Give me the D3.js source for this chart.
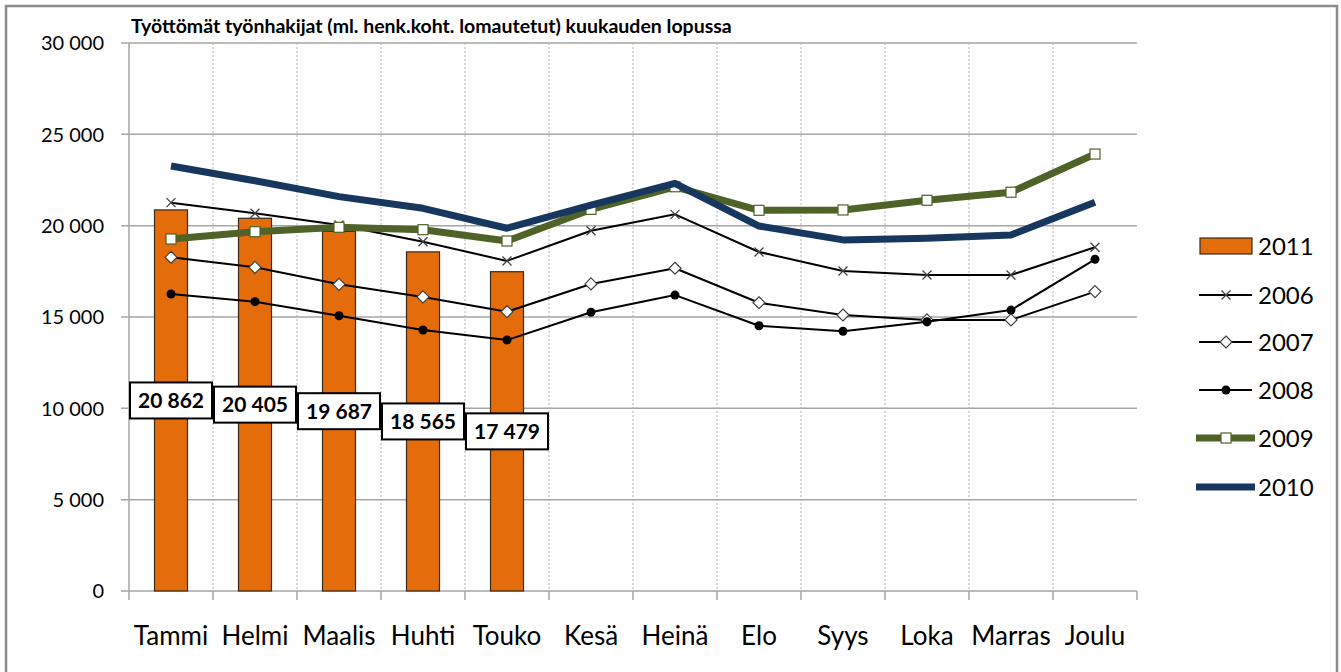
<!DOCTYPE html>
<html>
<head>
<meta charset="utf-8">
<script src="https://cdn.jsdelivr.net/npm/d3@7"></script>
<style>
  html, body { margin: 0; padding: 0; background: #fff; }
  svg { display: block; font-family: Lato, "Open Sans", sans-serif; }
</style>
</head>
<body>
<svg id="chart" width="1341" height="672"></svg>
<script>
/** categories */
const months = ["Tammi", "Helmi", "Maalis", "Huhti", "Touko", "Kesä", "Heinä", "Elo", "Syys", "Loka", "Marras", "Joulu"];

/** bars, 2011 */
const y2011 = [20862, 20405, 19687, 18565, 17479];

/** lines */
const y2006 = [21260, 20680, 20040, 19120, 18070, 19720, 20620, 18560, 17520, 17300, 17300, 18820];
const y2007 = [18270, 17720, 16790, 16100, 15290, 16810, 17670, 15780, 15110, 14840, 14840, 16390];
const y2008 = [16260, 15840, 15070, 14290, 13740, 15260, 16200, 14520, 14220, 14740, 15380, 18160];
const y2009 = [19270, 19670, 19910, 19780, 19160, 20890, 22130, 20840, 20860, 21390, 21830, 23920];
const y2010 = [23270, 22460, 21590, 20950, 19860, 21130, 22320, 19980, 19220, 19310, 19490, 21280];

const yTicks = [0, 5000, 10000, 15000, 20000, 25000, 30000];

const title = "Työttömät työnhakijat (ml. henk.koht. lomautetut) kuukauden lopussa";

const svg = d3.select("#chart");
const fmt = (v) => d3.format(",")(v).replace(/,/g, " ");

/** outer frame */
svg.append("rect")
  .attr("x", 6).attr("y", 6).attr("width", 1331).attr("height", 700)
  .attr("fill", "none").attr("stroke", "#8c8c8c").attr("stroke-width", 2.5);

/** scales */
const x = d3.scaleBand().domain(months).range([129, 1137]).padding(0);
const y = d3.scaleLinear().domain([0, 30000]).range([591, 43]);
const cx = (m) => x(m) + x.bandwidth() / 2;

/** horizontal grid */
svg.append("g").selectAll("line").data(yTicks).join("line")
  .attr("x1", 121).attr("x2", 1137)
  .attr("y1", (d) => y(d)).attr("y2", (d) => y(d))
  .attr("stroke", "#a6a6a6").attr("stroke-width", 1.5);

/** vertical dotted grid */
svg.append("g").selectAll("line").data(months.slice(1)).join("line")
  .attr("x1", (d) => x(d)).attr("x2", (d) => x(d))
  .attr("y1", y(30000)).attr("y2", y(0))
  .attr("stroke", "#b0b0b0").attr("stroke-width", 1).attr("stroke-dasharray", "2,2");

/** axes */
svg.append("line").attr("x1", 129).attr("x2", 129).attr("y1", y(30000)).attr("y2", y(0))
  .attr("stroke", "#a6a6a6").attr("stroke-width", 1.5);
svg.append("g").selectAll("line").data([...months.map((m) => x(m)), 1137]).join("line")
  .attr("x1", (d) => d).attr("x2", (d) => d).attr("y1", y(0)).attr("y2", y(0) + 9)
  .attr("stroke", "#a6a6a6").attr("stroke-width", 1.5);

svg.append("g").selectAll("text").data(yTicks).join("text")
  .attr("x", 104).attr("y", (d) => y(d)).attr("dy", "0.36em")
  .attr("text-anchor", "end").attr("font-size", 20).attr("fill", "#000")
  .text(fmt);

svg.append("g").selectAll("text").data(months).join("text")
  .attr("x", cx).attr("y", 645)
  .attr("text-anchor", "middle").attr("font-size", 26).attr("fill", "#000")
  .text((d) => d);

/** title */
svg.append("text").attr("x", 131).attr("y", 33)
  .attr("font-size", 19.5).attr("font-weight", "bold").text(title);

/** bars */
const barW = 33;
svg.append("g").selectAll("rect").data(y2011).join("rect")
  .attr("x", (d, i) => cx(months[i]) - barW / 2)
  .attr("y", (d) => y(d))
  .attr("width", barW)
  .attr("height", (d) => y(0) - y(d))
  .attr("fill", "#e46c0a").attr("stroke", "#3a2a1a").attr("stroke-width", 1.2);

/** lines */
const line = d3.line().x((d, i) => cx(months[i])).y((d) => y(d));
const series = [
  { name: "2006", data: y2006, color: "#000", width: 2, marker: "x" },
  { name: "2007", data: y2007, color: "#000", width: 2, marker: "diamond" },
  { name: "2008", data: y2008, color: "#000", width: 2, marker: "dot" },
  { name: "2009", data: y2009, color: "#4f6228", width: 7, marker: "square" },
  { name: "2010", data: y2010, color: "#17375e", width: 7, marker: null },
];

const drawMarker = (g, kind, px, py) => {
  if (kind === "x") {
    g.append("path").attr("d", `M${px - 4.5},${py - 4.5}L${px + 4.5},${py + 4.5}M${px - 4.5},${py + 4.5}L${px + 4.5},${py - 4.5}`)
      .attr("stroke", "#404040").attr("stroke-width", 1.3);
  } else if (kind === "diamond") {
    g.append("path").attr("d", `M${px},${py - 6}L${px + 6},${py}L${px},${py + 6}L${px - 6},${py}Z`)
      .attr("fill", "#fff").attr("stroke", "#404040").attr("stroke-width", 1.2);
  } else if (kind === "dot") {
    g.append("circle").attr("cx", px).attr("cy", py).attr("r", 4.5).attr("fill", "#000");
  } else if (kind === "square") {
    g.append("rect").attr("x", px - 5).attr("y", py - 5).attr("width", 10).attr("height", 10)
      .attr("fill", "#fff").attr("stroke", "#4f6228").attr("stroke-width", 1.2);
  }
};

for (const s of series) {
  const g = svg.append("g");
  g.append("path").attr("d", line(s.data)).attr("fill", "none")
    .attr("stroke", s.color).attr("stroke-width", s.width).attr("stroke-linejoin", "round");
  if (s.marker) s.data.forEach((d, i) => drawMarker(g, s.marker, cx(months[i]), y(d)));
}

/** value labels on bars */
const labels = svg.append("g");
y2011.forEach((d, i) => {
  const px = cx(months[i]), py = y(d / 2);
  labels.append("rect").attr("x", px - 41).attr("y", py - 18).attr("width", 82).attr("height", 36)
    .attr("fill", "#fff").attr("stroke", "#000").attr("stroke-width", 2);
  labels.append("text").attr("x", px).attr("y", py).attr("dy", "0.36em")
    .attr("text-anchor", "middle").attr("font-size", 21).attr("font-weight", "bold")
    .text(fmt(d));
});

/** legend */
const leg = svg.append("g");
const legY = [246, 295, 342, 390, 438, 487];
const legItems = [
  { name: "2011", bar: true },
  ...series,
];
legItems.forEach((s, i) => {
  const ly = legY[i];
  if (s.bar) {
    leg.append("rect").attr("x", 1200).attr("y", ly - 8).attr("width", 52).attr("height", 16)
      .attr("fill", "#e46c0a").attr("stroke", "#3a2a1a").attr("stroke-width", 1.2);
  } else {
    const x0 = s.width > 3 ? 1196 : 1199, x1 = s.width > 3 ? 1255 : 1252;
    leg.append("line").attr("x1", x0).attr("x2", x1).attr("y1", ly).attr("y2", ly)
      .attr("stroke", s.color).attr("stroke-width", s.width);
    if (s.marker) drawMarker(leg, s.marker, 1226, ly);
  }
  leg.append("text").attr("x", 1258).attr("y", ly).attr("dy", "0.36em")
    .attr("font-size", 24).text(s.name);
});
</script>
</body>
</html>
